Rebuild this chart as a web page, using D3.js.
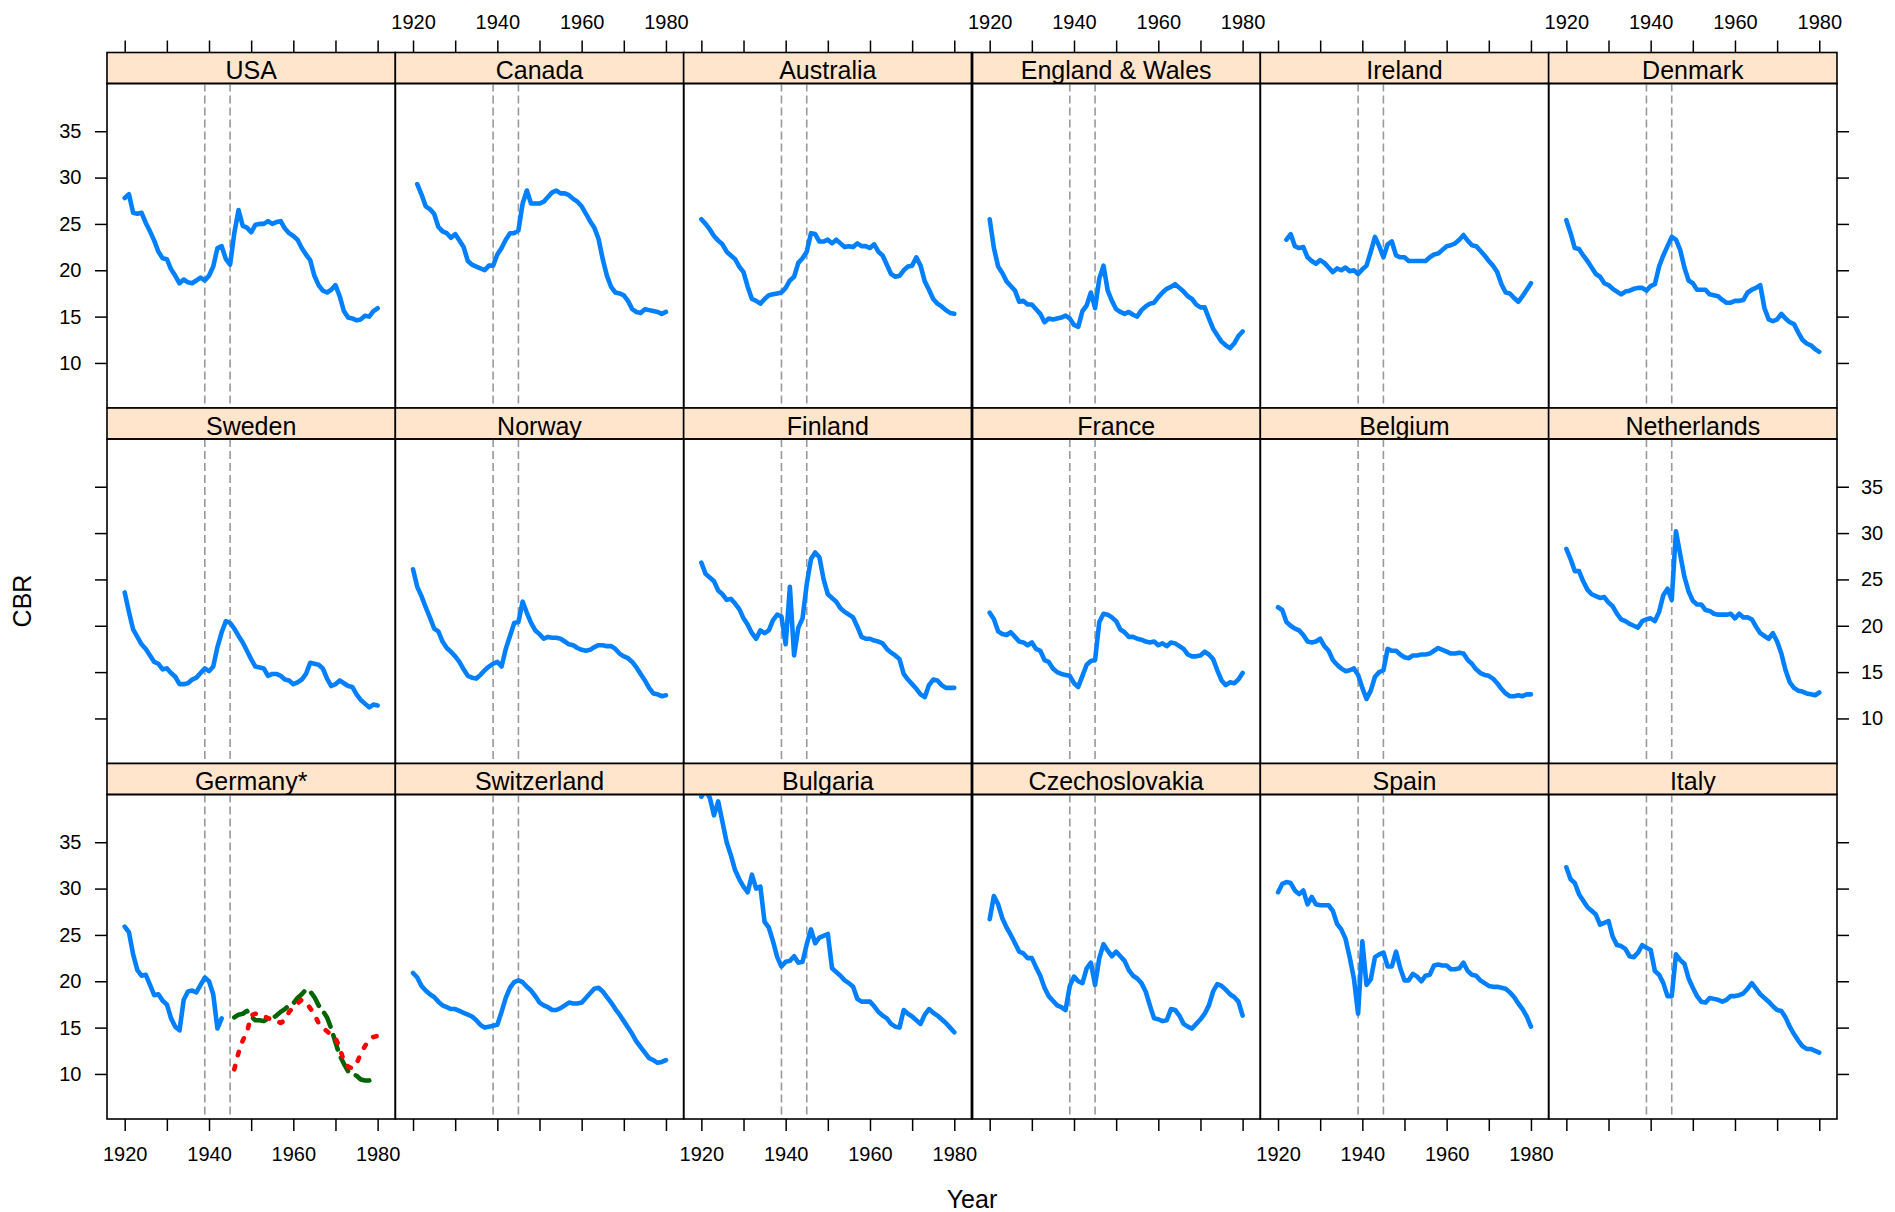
<!DOCTYPE html>
<html>
<head>
<meta charset="utf-8">
<script src="https://cdn.jsdelivr.net/npm/d3@7"></script>
<style>
  html, body { margin: 0; padding: 0; background: #fff; }
  svg { display: block; font-family: "Liberation Sans", Arial, sans-serif; }
</style>
</head>
<body>
<svg id="chart" width="1895" height="1212"></svg>
<script>
// ---- data (crude birth rate per 1000, 1920-1980) ----
const countries = [
  "USA", "Canada", "Australia", "England & Wales", "Ireland", "Denmark",
  "Sweden", "Norway", "Finland", "France", "Belgium", "Netherlands",
  "Germany*", "Switzerland", "Bulgaria", "Czechoslovakia", "Spain", "Italy"
];
const years = d3.range(1920, 1981);
const yearsPostwar = d3.range(1946, 1981);
const xTicks = [1920, 1930, 1940, 1950, 1960, 1970, 1980];
const yTicks = [10, 15, 20, 25, 30, 35];
const warYears = [1939, 1945];
const xLimits = [1915.8, 1984.2];
const yLimits = [5.14, 40.15];

const cbrUSA = [27.8,28.2,26.2,26.1,26.2,25.1,24.2,23.2,22.0,21.3, 21.2,20.1,19.4,18.6,19.0,18.7,18.6,18.9,19.2,18.9,
  19.4,20.4,22.4,22.6,21.2,20.6,24.0,26.5,24.8,24.6, 24.1,24.9,25.0,25.0,25.3,25.0,25.2,25.3,24.5,24.0,
  23.7,23.3,22.4,21.7,21.1,19.4,18.4,17.8,17.6,17.9, 18.4,17.2,15.6,14.9,14.8,14.6,14.7,15.1,15.0,15.6,15.9];
const cbrCanada = [null,29.3,28.2,26.9,26.6,26.1,24.7,24.2,24.0,23.5, 23.9,23.2,22.5,21.0,20.6,20.4,20.2,20.0,20.5,20.5,
  21.7,22.4,23.3,24.0,24.0,24.3,27.2,28.6,27.2,27.2, 27.2,27.4,27.9,28.4,28.6,28.3,28.3,28.1,27.7,27.4,
  26.9,26.1,25.3,24.6,23.4,21.2,19.4,18.2,17.6,17.5, 17.3,16.7,15.8,15.5,15.4,15.8,15.7,15.6,15.5,15.3,15.5];
const cbrAustralia = [25.5,25.0,24.4,23.7,23.2,22.8,22.0,21.6,21.2,20.4, 19.8,18.2,16.9,16.7,16.4,16.9,17.3,17.4,17.5,17.6,
  18.1,18.9,19.3,20.8,21.3,22.0,24.0,23.9,23.1,23.1, 23.3,22.9,23.3,22.9,22.5,22.6,22.5,22.9,22.6,22.6,
  22.4,22.8,22.0,21.6,20.6,19.6,19.3,19.4,20.0,20.4, 20.5,21.4,20.5,18.8,17.9,16.9,16.4,16.1,15.7,15.4,15.3];
const cbrEnglandWales = [25.5,22.4,20.4,19.7,18.8,18.3,17.8,16.6,16.7,16.3, 16.3,15.8,15.3,14.4,14.8,14.7,14.8,14.9,15.1,14.8,
  14.1,13.9,15.6,16.2,17.6,15.9,19.1,20.5,17.8,16.7, 15.8,15.5,15.3,15.5,15.2,15.0,15.7,16.1,16.4,16.5,
  17.1,17.6,18.0,18.2,18.5,18.1,17.7,17.2,16.9,16.3, 16.0,16.0,14.8,13.7,13.0,12.3,11.9,11.6,12.1,12.9,13.4];
const cbrIreland = [null,null,23.3,23.9,22.6,22.4,22.5,21.4,21.0,20.7, 21.1,20.8,20.3,19.8,20.2,20.0,20.3,19.9,20.0,19.6,
  20.1,20.5,22.0,23.6,22.6,21.4,22.8,23.1,21.6,21.4, 21.4,21.0,21.0,21.0,21.0,21.0,21.4,21.7,21.8,22.2,
  22.6,22.7,22.9,23.3,23.8,23.2,22.7,22.6,22.1,21.6, 21.0,20.5,19.8,18.5,17.6,17.5,17.0,16.6,17.2,17.9,18.6];
const cbrDenmark = [25.4,24.0,22.4,22.3,21.6,21.0,20.3,19.6,19.3,18.6, 18.4,18.0,17.7,17.4,17.7,17.8,18.0,18.1,18.1,17.8,
  18.3,18.5,20.4,21.6,22.6,23.6,23.3,22.2,20.3,18.9, 18.6,17.9,17.9,17.9,17.4,17.3,17.2,16.8,16.5,16.5,
  16.7,16.7,16.8,17.6,17.9,18.1,18.4,15.9,14.7,14.5, 14.7,15.3,14.8,14.4,14.2,13.3,12.5,12.1,11.9,11.5,11.2];
const cbrSweden = [23.6,21.5,19.6,18.8,18.0,17.5,16.8,16.1,15.9,15.3, 15.4,14.9,14.5,13.7,13.7,13.8,14.2,14.4,14.9,15.4,
  15.1,15.6,17.7,19.3,20.5,20.3,19.7,18.9,18.2,17.3, 16.4,15.6,15.5,15.4,14.6,14.8,14.8,14.6,14.2,14.1,
  13.7,13.9,14.2,14.8,16.0,15.9,15.8,15.4,14.3,13.5, 13.7,14.1,13.8,13.5,13.4,12.6,12.0,11.6,11.2,11.5,11.4];
const cbrNorway = [26.1,24.2,23.2,22.0,20.9,19.7,19.4,18.3,17.6,17.2, 16.7,16.1,15.3,14.6,14.4,14.3,14.7,15.2,15.6,15.9,
  16.1,15.6,17.5,18.9,20.3,20.4,22.6,21.4,20.3,19.5, 19.1,18.6,18.8,18.7,18.7,18.6,18.3,18.0,17.9,17.6,
  17.4,17.3,17.4,17.7,17.9,17.9,17.8,17.8,17.5,17.0, 16.7,16.5,16.1,15.5,14.8,14.1,13.3,12.7,12.6,12.4,12.5];
const cbrFinland = [26.8,25.6,25.2,24.8,23.8,23.4,22.8,22.9,22.4,21.8, 20.8,20.1,19.2,18.6,19.5,19.2,19.5,20.6,21.2,21.0,
  18.0,24.2,16.8,19.8,20.8,24.5,27.2,27.9,27.4,25.0, 23.4,23.0,22.6,21.9,21.5,21.2,20.9,19.9,18.8,18.6,
  18.6,18.4,18.3,18.1,17.5,17.1,16.8,16.4,14.8,14.2, 13.7,13.2,12.6,12.3,13.6,14.2,14.1,13.6,13.3,13.3,13.3];
const cbrFrance = [21.4,20.7,19.4,19.1,19.0,19.3,18.8,18.3,18.2,17.9, 18.2,17.5,17.3,16.3,16.1,15.4,15.0,14.8,14.7,14.6,
  13.8,13.4,14.6,15.8,16.2,16.3,20.4,21.3,21.2,20.9, 20.5,19.6,19.3,18.8,18.8,18.6,18.5,18.3,18.2,18.3,
  17.9,18.1,17.8,18.2,18.1,17.8,17.5,16.9,16.7,16.7, 16.8,17.2,16.9,16.4,15.2,14.1,13.6,13.9,13.8,14.2,14.9];
const cbrBelgium = [22.0,21.7,20.4,20.0,19.7,19.5,19.0,18.3,18.2,18.3, 18.6,17.8,17.3,16.3,15.8,15.4,15.1,15.2,15.4,14.7,
  13.3,12.1,13.0,14.5,15.0,15.2,17.5,17.3,17.3,16.9, 16.6,16.5,16.8,16.8,16.9,16.9,17.0,17.3,17.6,17.4,
  17.2,17.0,17.0,17.1,17.0,16.3,15.9,15.3,14.9,14.7, 14.6,14.3,13.8,13.2,12.7,12.4,12.4,12.5,12.4,12.6,12.6];
const cbrNetherlands = [28.3,27.2,25.9,25.9,24.8,23.9,23.4,23.2,23.0,23.1, 22.5,22.1,21.3,20.7,20.5,20.2,20.0,19.8,20.5,20.7,
  20.8,20.5,21.5,23.3,24.0,22.8,30.2,27.7,25.3,23.7, 22.7,22.3,22.3,21.7,21.6,21.3,21.2,21.2,21.2,21.3,
  20.8,21.3,20.9,20.9,20.7,19.9,19.2,18.9,18.6,19.2, 18.3,17.0,15.2,13.9,13.3,13.0,12.9,12.7,12.6,12.5,12.8];
const cbrGermany = [25.9,25.3,22.9,21.2,20.6,20.7,19.6,18.5,18.6,17.9, 17.5,16.0,15.1,14.7,18.0,18.9,19.0,18.8,19.6,20.4,
  20.0,18.6,14.9,16.0];
// post-war Germany, two states (from 1946)
const cbrGermanyGreen = [16.1,16.4,16.5,16.8,16.2,15.8,15.8,15.7,16.0,16.0,16.3,16.7,17.0,17.4,17.6,18.2,18.6,19.1,18.9,18.3,
  17.4,16.8,16.1,14.9,13.4,12.0,11.1,10.3,10.1,9.8,9.4,9.3,9.3,9.4,9.6];
const cbrGermanyRed = [10.5,12.3,13.6,14.5,16.3,16.5,16.4,16.3,16.0,15.9,15.7,15.5,15.8,16.7,17.2,17.6,18.0,17.7,17.1,16.4,
  15.5,15.0,14.6,14.2,13.9,12.8,11.4,10.8,10.6,11.1,12.2,13.0,13.7,14.0,14.1];
const cbrSwitzerland = [20.9,20.4,19.5,19.0,18.6,18.3,17.8,17.4,17.2,17.0, 17.0,16.8,16.6,16.4,16.2,15.8,15.3,15.0,15.1,15.2,
  15.3,16.7,18.2,19.3,19.9,20.1,19.9,19.4,19.0,18.4, 17.7,17.4,17.2,16.9,16.9,17.1,17.4,17.7,17.6,17.6,
  17.7,18.2,18.7,19.2,19.3,18.9,18.3,17.7,17.0,16.4, 15.7,15.0,14.3,13.5,12.9,12.3,11.7,11.5,11.2,11.3,11.5];
const cbrBulgaria = [39.9,40.6,39.8,37.9,39.4,37.2,35.0,33.6,32.0,31.0, 30.2,29.6,31.5,30.0,30.2,26.4,25.8,24.3,22.6,21.6,
  22.1,22.2,22.7,22.0,22.1,24.0,25.6,24.1,24.7,24.9, 25.1,21.4,21.0,20.6,20.1,19.8,19.4,18.1,17.8,17.8,
  17.8,17.3,16.7,16.3,16.0,15.4,15.1,15.0,16.9,16.5, 16.2,15.8,15.4,16.4,17.0,16.6,16.3,15.9,15.5,15.0,14.5];
const cbrCzechoslovakia = [26.7,29.2,28.3,26.8,25.8,25.0,24.1,23.2,23.0,22.5, 22.5,21.5,20.6,19.3,18.4,17.9,17.4,17.2,16.9,19.5,
  20.5,20.0,19.8,21.4,22.0,19.6,22.5,24.0,23.3,22.7, 23.2,22.7,22.2,21.2,20.6,20.3,19.8,18.9,17.4,16.0,
  15.9,15.7,15.8,17.0,16.9,16.3,15.4,15.1,14.9,15.4, 15.9,16.5,17.4,18.9,19.7,19.5,19.1,18.6,18.3,17.8,16.3];
const cbrSpain = [29.6,30.5,30.7,30.6,29.8,29.4,29.8,28.3,29.1,28.3, 28.2,28.2,28.2,27.6,26.2,25.6,24.6,22.6,20.3,16.5,
  24.3,19.6,20.2,22.6,22.9,23.1,21.6,21.6,23.2,21.4, 20.1,20.1,20.8,20.5,20.0,20.6,20.7,21.7,21.8,21.7,
  21.7,21.3,21.3,21.4,22.0,21.1,20.7,20.6,20.1,19.8, 19.5,19.4,19.4,19.3,19.2,18.8,18.3,17.6,17.0,16.2,15.1];
const cbrItaly = [32.3,31.0,30.6,29.4,28.7,28.0,27.6,27.2,26.1,26.3, 26.5,24.8,23.9,23.8,23.5,22.7,22.6,23.1,23.9,23.6,
  23.4,21.1,20.7,19.8,18.4,18.4,22.9,22.3,21.9,20.3, 19.3,18.4,17.8,17.7,18.2,18.1,18.0,17.8,18.0,18.4,
  18.4,18.5,18.7,19.2,19.8,19.2,18.6,18.2,17.8,17.3, 16.9,16.8,16.1,15.1,14.3,13.6,13.0,12.7,12.7,12.5,12.3];

// ---- series per panel ----
const blue = { color: "#0080ff", dash: null };
const seriesByCountry = {
  "USA": [[cbrUSA, years, blue]],
  "Canada": [[cbrCanada, years, blue]],
  "Australia": [[cbrAustralia, years, blue]],
  "England & Wales": [[cbrEnglandWales, years, blue]],
  "Ireland": [[cbrIreland, years, blue]],
  "Denmark": [[cbrDenmark, years, blue]],
  "Sweden": [[cbrSweden, years, blue]],
  "Norway": [[cbrNorway, years, blue]],
  "Finland": [[cbrFinland, years, blue]],
  "France": [[cbrFrance, years, blue]],
  "Belgium": [[cbrBelgium, years, blue]],
  "Netherlands": [[cbrNetherlands, years, blue]],
  "Germany*": [
    [cbrGermany, years, blue],
    [cbrGermanyGreen, yearsPostwar, { color: "#006400", dash: "15,9" }],
    [cbrGermanyRed, yearsPostwar, { color: "#ff0000", dash: "3.5,11" }]
  ],
  "Switzerland": [[cbrSwitzerland, years, blue]],
  "Bulgaria": [[cbrBulgaria, years, blue]],
  "Czechoslovakia": [[cbrCzechoslovakia, years, blue]],
  "Spain": [[cbrSpain, years, blue]],
  "Italy": [[cbrItaly, years, blue]]
};

// ---- layout ----
const svg = d3.select("#chart");
const gridLeft = 107, gridTop = 52.5;
const colW = 288.33, rowH = 355.5, stripH = 31;
const nCol = 6;
const panelH = rowH - stripH;

const x = d3.scaleLinear().domain(xLimits).range([0, colW]);
const y = d3.scaleLinear().domain(yLimits).range([panelH, 0]);

const line = d3.line()
  .defined(d => d[1] != null)
  .x(d => x(d[0]))
  .y(d => y(d[1]));

function styleAxis(g) {
  g.attr("font-family", null).attr("font-size", null);
  g.select(".domain").remove();
  g.selectAll(".tick line").attr("stroke", "#000").attr("stroke-width", 1.5);
  g.selectAll(".tick text").attr("fill", "#000").style("font-size", "20px");
}

const xFmt = d => d % 20 === 0 ? d : "";

countries.forEach((name, i) => {
  const col = i % nCol, row = Math.floor(i / nCol);
  const px = gridLeft + col * colW, py = gridTop + row * rowH;
  const g = svg.append("g").attr("transform", `translate(${px},${py})`);

  // strip
  g.append("rect")
    .attr("width", colW).attr("height", stripH)
    .attr("fill", "#ffe5cc").attr("stroke", "#000").attr("stroke-width", 1.6);
  g.append("text")
    .attr("x", colW / 2).attr("y", stripH - 4.5)
    .attr("text-anchor", "middle")
    .style("font-size", "25px")
    .text(name);

  // panel
  const p = g.append("g").attr("transform", `translate(0,${stripH})`);
  const clipId = "clip" + i;
  p.append("clipPath").attr("id", clipId)
    .append("rect").attr("width", colW).attr("height", panelH);

  const inner = p.append("g").attr("clip-path", `url(#${clipId})`);
  inner.selectAll("line.war")
    .data(warYears)
    .join("line")
    .attr("class", "war")
    .attr("x1", d => x(d)).attr("x2", d => x(d))
    .attr("y1", 0).attr("y2", panelH)
    .attr("stroke", "#999").attr("stroke-width", 1.6)
    .attr("stroke-dasharray", "8,4");

  seriesByCountry[name].forEach(([vals, yrs, st]) => {
    const pts = vals.map((v, k) => [yrs[k], v]);
    inner.append("path")
      .attr("d", line(pts))
      .attr("fill", "none")
      .attr("stroke", st.color)
      .attr("stroke-width", 4.6)
      .attr("stroke-linejoin", "round")
      .attr("stroke-linecap", "round")
      .attr("stroke-dasharray", st.dash);
  });

  p.append("rect")
    .attr("width", colW).attr("height", panelH)
    .attr("fill", "none").attr("stroke", "#000").attr("stroke-width", 1.6);

  // axes (alternating labels, lattice style)
  if (row === 0) {
    g.append("g")
      .call(d3.axisTop(x).tickValues(xTicks).tickSize(12).tickPadding(11.5)
        .tickFormat(col % 2 === 1 ? xFmt : () => ""))
      .call(styleAxis);
  }
  if (row === 2) {
    g.append("g").attr("transform", `translate(0,${rowH})`)
      .call(d3.axisBottom(x).tickValues(xTicks).tickSize(12).tickPadding(15.5)
        .tickFormat(col % 2 === 0 ? xFmt : () => ""))
      .call(styleAxis);
  }
  if (col === 0) {
    p.append("g")
      .call(d3.axisLeft(y).tickValues(yTicks).tickSize(12).tickPadding(13.5)
        .tickFormat(row !== 1 ? d => d : () => ""))
      .call(styleAxis);
  }
  if (col === nCol - 1) {
    p.append("g").attr("transform", `translate(${colW},0)`)
      .call(d3.axisRight(y).tickValues(yTicks).tickSize(12).tickPadding(12)
        .tickFormat(row === 1 ? d => d : () => ""))
      .call(styleAxis);
  }
});

// heavier middle divider, as in the reference
svg.append("line")
  .attr("x1", gridLeft + 3 * colW).attr("x2", gridLeft + 3 * colW)
  .attr("y1", gridTop).attr("y2", gridTop + 3 * rowH)
  .attr("stroke", "#000").attr("stroke-width", 2.8);

// axis titles
svg.append("text")
  .attr("transform", `translate(31,601) rotate(-90)`)
  .attr("text-anchor", "middle")
  .style("font-size", "25px")
  .text("CBR");
svg.append("text")
  .attr("x", gridLeft + 3 * colW).attr("y", 1208)
  .attr("text-anchor", "middle")
  .style("font-size", "25px")
  .text("Year");
</script>
</body>
</html>
